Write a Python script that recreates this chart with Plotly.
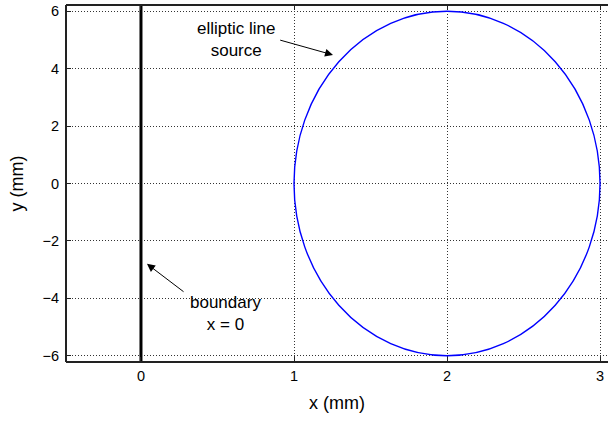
import plotly.graph_objects as go

# ---- data ----
boundary_x = [0, 0]
boundary_y = [-6.25, 6.25]

ellipse_center = [2.0, 0.0]      # (x, y) in mm
ellipse_semi_axes = [1.0, 6.0]   # (a, b) in mm

x_ticks = [0, 1, 2, 3]
y_ticks = [-6, -4, -2, 0, 2, 4, 6]
y_tick_labels = ["\u22126", "\u22124", "\u22122", "0", "2", "4", "6"]

FONT = "Liberation Sans, Arial, sans-serif"

fig = go.Figure()

fig.add_trace(go.Scatter(
    x=boundary_x, y=boundary_y, mode="lines",
    line=dict(color="black", width=3), showlegend=False, hoverinfo="skip"))

cx, cy = ellipse_center
a, b = ellipse_semi_axes
fig.add_shape(type="circle", xref="x", yref="y",
              x0=cx - a, x1=cx + a, y0=cy - b, y1=cy + b,
              line=dict(color="#0000ff", width=1.4))

# frame: bottom, top, left (no right border)
for (x0, y0, x1, y1) in [(0, 0, 1, 0), (0, 1, 1, 1), (0, 0, 0, 1)]:
    fig.add_shape(type="line", xref="paper", yref="paper",
                  x0=x0, y0=y0, x1=x1, y1=y1,
                  line=dict(color="#222", width=2), layer="above")

# annotations: text
fig.add_annotation(x=0.62, y=5.01, xref="x", yref="y",
                   text="elliptic line<br>source", showarrow=False,
                   font=dict(family=FONT, size=17, color="black"), align="center")
fig.add_annotation(x=0.55, y=-4.54, xref="x", yref="y",
                   text="boundary<br>x = 0", showarrow=False,
                   font=dict(family=FONT, size=17, color="black"), align="center")
# arrows
fig.add_annotation(x=1.255, y=4.48, ax=0.90, ay=5.01, xref="x", yref="y",
                   axref="x", ayref="y", text="", showarrow=True,
                   arrowhead=2, arrowsize=1.6, arrowwidth=1, arrowcolor="black")
fig.add_annotation(x=0.039, y=-2.80, ax=0.288, ay=-3.81, xref="x", yref="y",
                   axref="x", ayref="y", text="", showarrow=True,
                   arrowhead=2, arrowsize=1.6, arrowwidth=1, arrowcolor="black")

fig.update_layout(
    width=608, height=421,
    margin=dict(l=66, r=0, t=5, b=59),
    paper_bgcolor="white", plot_bgcolor="white",
    font=dict(family=FONT, size=14, color="black"),
    showlegend=False,
)

fig.update_xaxes(
    range=[-0.49, 3.052], tickvals=x_ticks,
    showgrid=True, gridcolor="#333", griddash="1px,2px", gridwidth=1,
    zeroline=False, showline=False,
    mirror="ticks", ticks="inside", ticklen=5, tickcolor="#222", tickwidth=1,
    ticklabelstandoff=3,
    title=dict(text="x (mm)", font=dict(family=FONT, size=18), standoff=13),
    tickfont=dict(family=FONT, size=14.5),
)
fig.update_yaxes(
    range=[-6.22, 6.22], tickvals=y_ticks, ticktext=y_tick_labels,
    showgrid=True, gridcolor="#333", griddash="1px,2px", gridwidth=1,
    zeroline=False, showline=False,
    mirror=False, ticks="inside", ticklen=5, tickcolor="#222", tickwidth=1,
    ticklabelstandoff=6,
    title=dict(text="y (mm)", font=dict(family=FONT, size=18), standoff=14),
    tickfont=dict(family=FONT, size=14.5),
)

fig.write_html("out.html", config={"displayModeBar": False})
